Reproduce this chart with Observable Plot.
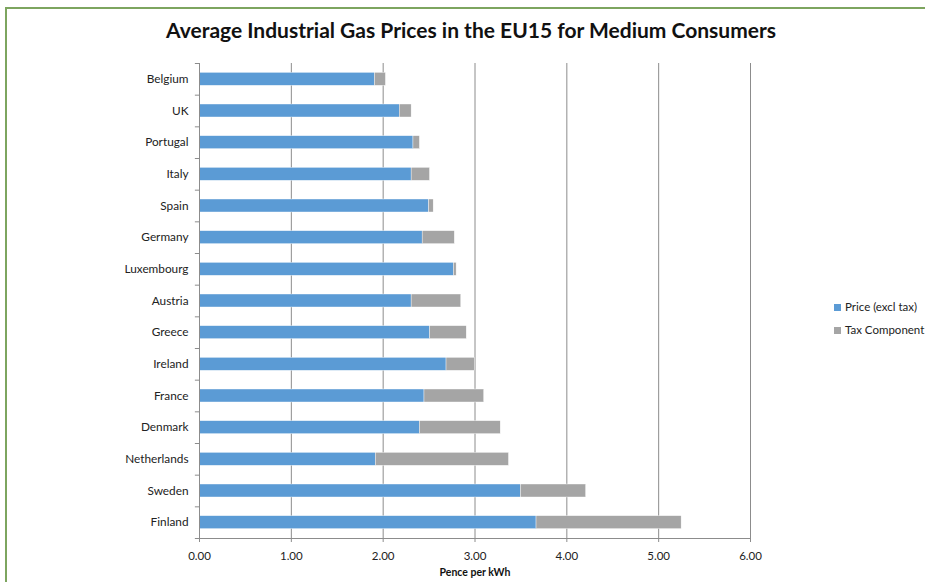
<!DOCTYPE html>
<html>
<head>
<meta charset="utf-8">
<script src="https://cdn.jsdelivr.net/npm/d3@7"></script>
<script src="https://cdn.jsdelivr.net/npm/@observablehq/plot@0.6"></script>
<style>
  html, body { margin: 0; padding: 0; background: #fff; overflow: hidden; }
  #wrap { position: relative; width: 925px; height: 582px; font-family: Lato, "Open Sans", sans-serif; }
  #border { position: absolute; left: 5px; top: 7px; width: 1000px; height: 1000px; border: 2px solid #7da55f; box-sizing: border-box; pointer-events: none; }
  .leg { position: absolute; font-size: 11.5px; color: #222; white-space: nowrap; }
  .sw { display: inline-block; width: 7px; height: 7px; margin-right: 4px; vertical-align: 0px; }
</style>
</head>
<body>
<div id="wrap">
  <div id="border"></div>
  <div id="chart"></div>
  <div class="leg" style="left:834px; top:300px;"><span class="sw" style="background:#5b9bd5"></span>Price (excl tax)</div>
  <div class="leg" style="left:834px; top:323px;"><span class="sw" style="background:#a5a5a5"></span>Tax Component</div>
</div>
<script>
const title = "Average Industrial Gas Prices in the EU15 for Medium Consumers";
const xLabel = "Pence per kWh";
const countries = ["Belgium","UK","Portugal","Italy","Spain","Germany","Luxembourg","Austria","Greece","Ireland","France","Denmark","Netherlands","Sweden","Finland"];
const price = [1.91, 2.18, 2.33, 2.31, 2.50, 2.43, 2.77, 2.31, 2.51, 2.69, 2.45, 2.40, 1.92, 3.50, 3.67];
const tax   = [0.12, 0.13, 0.07, 0.20, 0.05, 0.35, 0.03, 0.54, 0.40, 0.31, 0.65, 0.88, 1.45, 0.71, 1.58];
const seriesNames = ["Price (excl tax)", "Tax Component"];
const seriesColors = ["#5b9bd5", "#a5a5a5"];
const xTicks = [0, 1, 2, 3, 4, 5, 6];

const rows = [];
countries.forEach((c, i) => {
  rows.push({country: c, series: seriesNames[0], value: price[i]});
  rows.push({country: c, series: seriesNames[1], value: tax[i]});
});

const W = 925, H = 582;
const mTop = 63, mBottom = 44, mLeft = 199, mRight = 175;
const step = (H - mTop - mBottom) / countries.length;
const gridColor = "#8c8c8c";

const chart = Plot.plot({
  width: W,
  height: H,
  marginTop: mTop,
  marginBottom: mBottom,
  marginLeft: mLeft,
  marginRight: mRight,
  style: {fontFamily: "Lato, 'Open Sans', sans-serif", fontSize: "11px", color: "#222", background: "transparent", overflow: "visible"},
  x: {domain: [0, 6], axis: null},
  y: {domain: countries, paddingInner: 0.59, paddingOuter: 0.295, round: false, axis: null},
  color: {domain: seriesNames, range: seriesColors},
  marks: [
    Plot.ruleX(xTicks.slice(1), {stroke: gridColor, strokeWidth: 1}),
    Plot.barX(rows, {x: "value", y: "country", fill: "series", stroke: "#fff", strokeWidth: 0.4}),
    Plot.ruleX([0], {stroke: gridColor, strokeWidth: 1}),
    Plot.ruleY(countries, {y: d => d, x1: -0.045, x2: 0, dy: -step / 2, stroke: gridColor}),
    Plot.ruleY([countries[countries.length - 1]], {y: d => d, x1: -0.045, x2: 6, dy: step / 2, stroke: gridColor}),
    Plot.axisY({tickSize: 0, tickPadding: 11, label: null, fontSize: 11.8, fill: "#222"}),
    Plot.axisX({ticks: xTicks, tickSize: 4, tickPadding: 9, stroke: gridColor, tickFormat: d3.format(".2f"), label: null, fontSize: 11.5, fill: "#222"}),
    Plot.text([xLabel], {frameAnchor: "bottom", dy: 37, fontWeight: "bold", fontSize: 10.5, fill: "#111"}),
    Plot.text([title], {frameAnchor: "top", dy: -40, dx: -4, fontWeight: "bold", fontSize: 21, fill: "#111"})
  ]
});
document.getElementById("chart").appendChild(chart);
</script>
</body>
</html>
